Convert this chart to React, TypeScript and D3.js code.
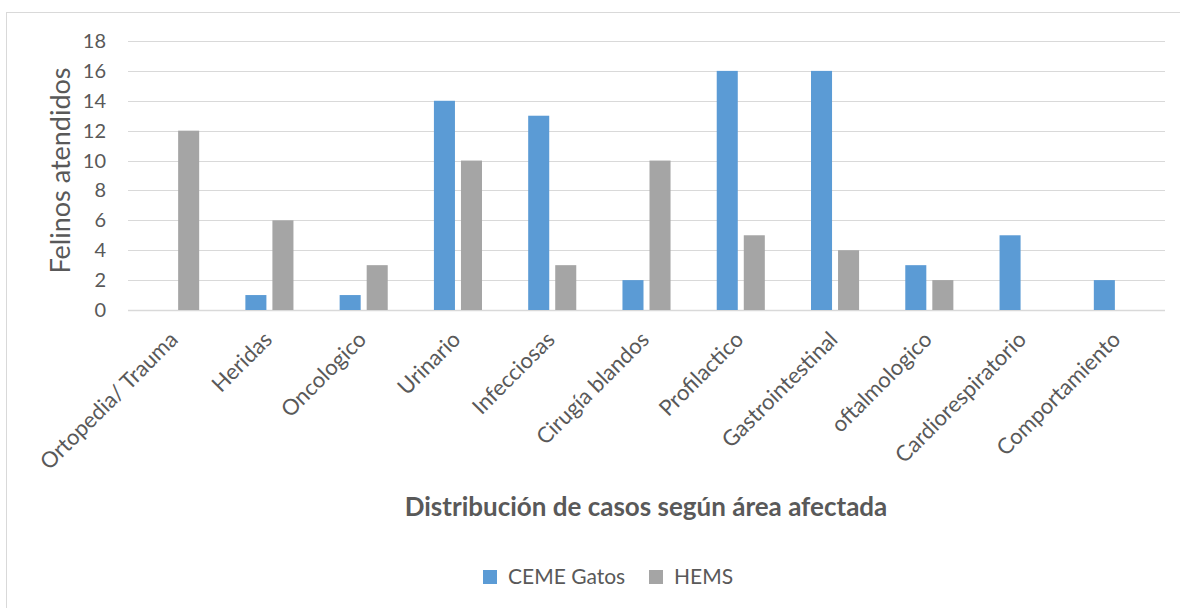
import * as d3 from 'd3';
import {useEffect, useRef} from "react";
import * as React from "react";

const categories = [
    "Ortopedia/ Trauma", "Heridas", "Oncologico", "Urinario", "Infecciosas",
    "Cirugía blandos", "Profilactico", "Gastrointestinal", "oftalmologico",
    "Cardiorespiratorio", "Comportamiento"
];
const seriesNames = ["CEME Gatos", "HEMS"];
const cemeGatos = [0, 1, 1, 14, 13, 2, 16, 16, 3, 5, 2];
const hems = [12, 6, 3, 10, 3, 10, 5, 4, 2, 0, 0];
const yTicks = [0, 2, 4, 6, 8, 10, 12, 14, 16, 18];
const colors = ["#5B9BD5", "#A5A5A5"];

const FONT = "Lato, 'Open Sans', sans-serif";

const App: React.FC = () => {
    const svgRef = useRef<SVGSVGElement | null>(null);

    useEffect(() => {
        const W = 1180, H = 608;
        const left = 128, right = 1165, top = 41, bottom = 310;

        const svg = d3.select(svgRef.current)
            .attr("width", W)
            .attr("height", H)
            .html("");

        svg.append("rect")
            .attr("x", 6.5).attr("y", 12.5)
            .attr("width", W + 10).attr("height", H + 10)
            .attr("fill", "white")
            .attr("stroke", "#D9D9D9");

        const x0 = d3.scaleBand()
            .domain(categories)
            .range([left, right])
            .paddingInner(0.49)
            .paddingOuter(0.245);

        const x1 = d3.scaleBand()
            .domain(seriesNames)
            .range([0, x0.bandwidth()])
            .paddingInner(0.222);

        const y = d3.scaleLinear().domain([0, 18]).range([bottom, top]);

        const g = svg.append("g");

        // gridlines
        g.selectAll(".grid")
            .data(yTicks)
            .enter()
            .append("line")
            .attr("x1", left).attr("x2", right)
            .attr("y1", d => Math.round(y(d)) + 0.5)
            .attr("y2", d => Math.round(y(d)) + 0.5)
            .attr("stroke", "#D9D9D9")
            .attr("stroke-width", d => d === 0 ? 1.5 : 1);

        g.selectAll(".ytick")
            .data(yTicks)
            .enter()
            .append("text")
            .attr("x", 106)
            .attr("y", d => y(d))
            .attr("dy", "0.35em")
            .attr("text-anchor", "end")
            .attr("font-family", FONT)
            .attr("font-size", 20)
            .attr("fill", "#595959")
            .text(d => d);

        const rows = categories.map((c, i) => ({ c, vals: [cemeGatos[i], hems[i]] }));

        const groups = g.selectAll(".grp")
            .data(rows)
            .enter()
            .append("g")
            .attr("transform", d => `translate(${x0(d.c)},0)`);

        groups.selectAll("rect")
            .data(d => d.vals.map((v, k) => ({ s: seriesNames[k], v, k })))
            .enter()
            .filter(d => d.v > 0)
            .append("rect")
            .attr("x", d => x1(d.s)!)
            .attr("y", d => y(d.v))
            .attr("width", x1.bandwidth())
            .attr("height", d => y(0) - y(d.v))
            .attr("fill", d => colors[d.k]);

        // x labels
        g.selectAll(".xlab")
            .data(categories)
            .enter()
            .append("text")
            .attr("transform", d => `translate(${x0(d)! + x0.bandwidth() / 2 + 4},${bottom + 31}) rotate(-45)`)
            .attr("text-anchor", "end")
            .attr("font-family", FONT)
            .attr("font-size", 22)
            .attr("fill", "#595959")
            .text(d => d);

        svg.append("text")
            .attr("transform", `translate(70,${(top + bottom) / 2 - 5}) rotate(-90)`)
            .attr("text-anchor", "middle")
            .attr("font-family", FONT)
            .attr("font-size", 27)
            .attr("fill", "#595959")
            .text("Felinos atendidos");

        svg.append("text")
            .attr("x", 646)
            .attr("y", 516)
            .attr("text-anchor", "middle")
            .attr("font-family", FONT)
            .attr("font-size", 26)
            .attr("font-weight", "bold")
            .attr("fill", "#595959")
            .text("Distribución de casos según área afectada");

        // legend
        const legendX = [483, 649];
        seriesNames.forEach((s, i) => {
            svg.append("rect")
                .attr("x", legendX[i]).attr("y", 570)
                .attr("width", 14).attr("height", 14)
                .attr("fill", colors[i]);
            svg.append("text")
                .attr("x", legendX[i] + 25).attr("y", 584)
                .attr("font-family", FONT)
                .attr("font-size", 21)
                .attr("fill", "#595959")
                .text(s);
        });
    }, []);

    return <svg ref={svgRef} style={{position: "absolute", left: 0, top: 0}}></svg>;
};

export default App;
